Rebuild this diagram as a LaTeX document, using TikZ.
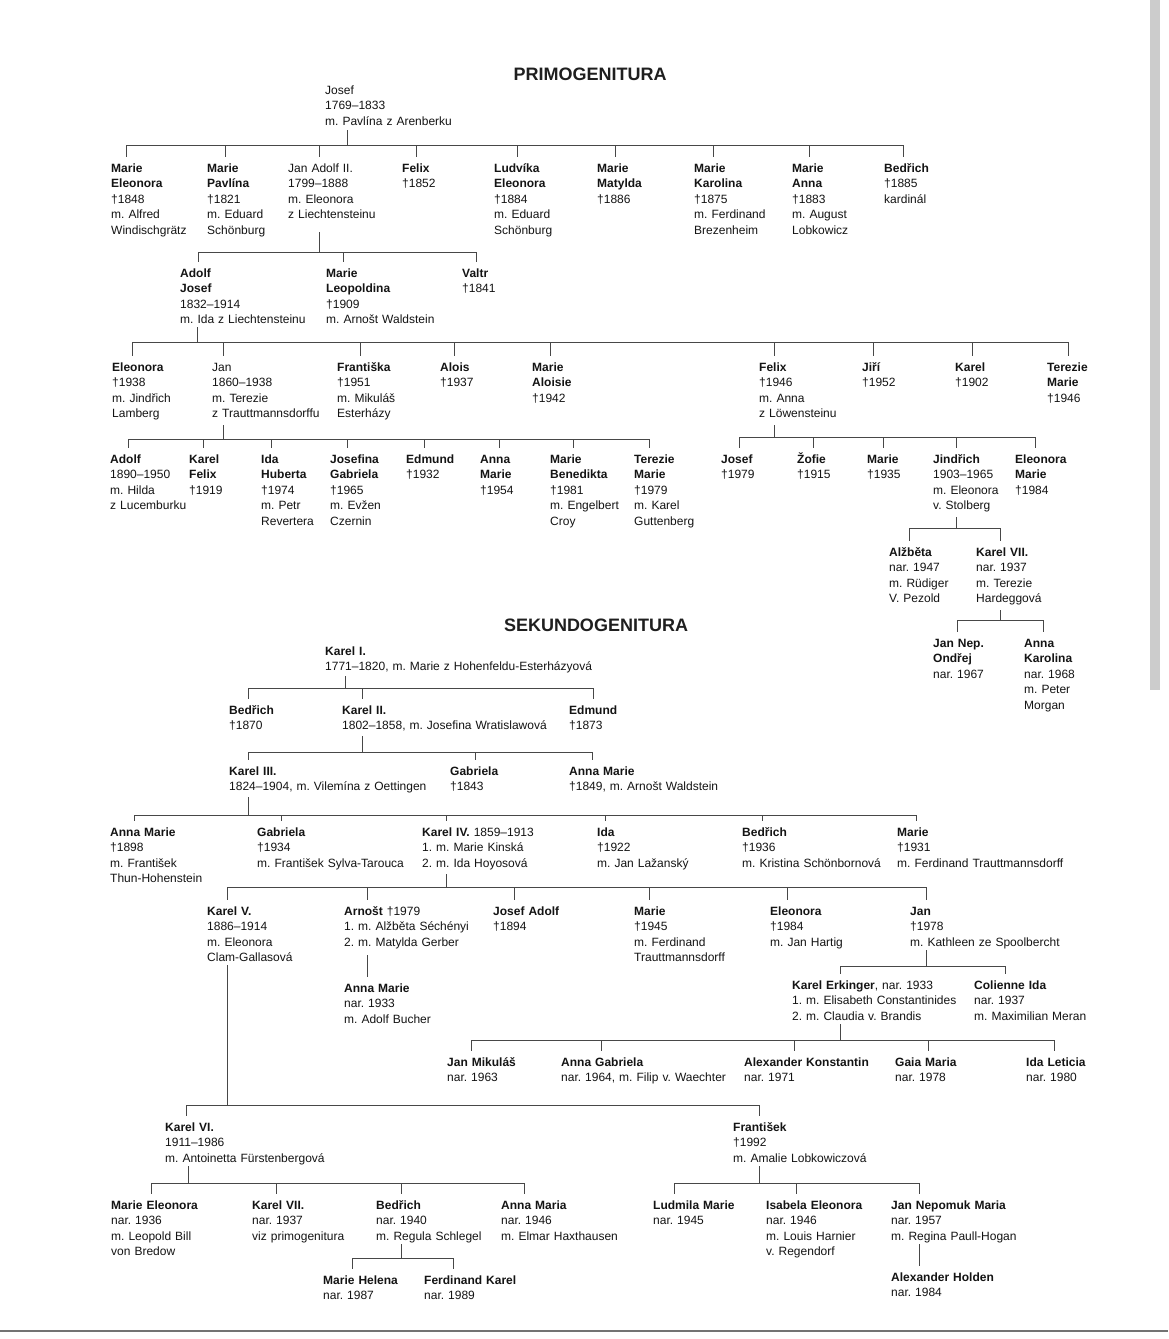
\documentclass[tikz,border=0pt]{standalone}
\usepackage{fontspec}
\setmainfont{Liberation Sans}
\tikzset{
    person/.style={anchor=base west, text width=320pt, align=left, inner sep=0pt,
        font=\fontsize{12}{15.5}\selectfont\frenchspacing, text=black!92},
    genhead/.style={anchor=base, inner sep=0pt,
        font=\fontsize{18}{20}\selectfont\bfseries, text=black!88},
    kinline/.style={draw=black!72, line width=0.9pt}
}

\begin{document}
\begin{tikzpicture}[x=1pt,y=-1pt]
\useasboundingbox (0,0) rectangle (1168,1339);
\fill[white] (0,0) rectangle (1168,1339);
\fill[black!20] (1150,0) rectangle (1160,690);
\draw[black!55, line width=1.5pt] (0,1331) -- (1168,1331);

% primogenitura
\node[genhead] (primo) at (590,80) {PRIMOGENITURA};
\node[person] (josef) at (325,94) {Josef\\1769–1833\\m. Pavlína z Arenberku};

\node[person] (mEleonora) at (111,172) {\textbf{Marie}\\\textbf{Eleonora}\\†1848\\m. Alfred\\Windischgrätz};
\node[person] (mPavlina) at (207,172) {\textbf{Marie}\\\textbf{Pavlína}\\†1821\\m. Eduard\\Schönburg};
\node[person] (janAdolf) at (288,172) {Jan Adolf II.\\1799–1888\\m. Eleonora\\z Liechtensteinu};
\node[person] (felixA) at (402,172) {\textbf{Felix}\\†1852};
\node[person] (ludvika) at (494,172) {\textbf{Ludvíka}\\\textbf{Eleonora}\\†1884\\m. Eduard\\Schönburg};
\node[person] (matylda) at (597,172) {\textbf{Marie}\\\textbf{Matylda}\\†1886};
\node[person] (karolina) at (694,172) {\textbf{Marie}\\\textbf{Karolina}\\†1875\\m. Ferdinand\\Brezenheim};
\node[person] (mAnna) at (792,172) {\textbf{Marie}\\\textbf{Anna}\\†1883\\m. August\\Lobkowicz};
\node[person] (bedrichA) at (884,172) {\textbf{Bedřich}\\†1885\\kardinál};

\node[person] (adolfJ) at (180,277) {\textbf{Adolf}\\\textbf{Josef}\\1832–1914\\m. Ida z Liechtensteinu};
\node[person] (leopoldina) at (326,277) {\textbf{Marie}\\\textbf{Leopoldina}\\†1909\\m. Arnošt Waldstein};
\node[person] (valtr) at (462,277) {\textbf{Valtr}\\†1841};

\node[person] (eleonoraB) at (112,371) {\textbf{Eleonora}\\†1938\\m. Jindřich\\Lamberg};
\node[person] (janB) at (212,371) {Jan\\1860–1938\\m. Terezie\\z Trauttmannsdorffu};
\node[person] (frantiska) at (337,371) {\textbf{Františka}\\†1951\\m. Mikuláš\\Esterházy};
\node[person] (alois) at (440,371) {\textbf{Alois}\\†1937};
\node[person] (aloisie) at (532,371) {\textbf{Marie}\\\textbf{Aloisie}\\†1942};
\node[person] (felixB) at (759,371) {\textbf{Felix}\\†1946\\m. Anna\\z Löwensteinu};
\node[person] (jiri) at (862,371) {\textbf{Jiří}\\†1952};
\node[person] (karelB) at (955,371) {\textbf{Karel}\\†1902};
\node[person] (terezieB) at (1047,371) {\textbf{Terezie}\\\textbf{Marie}\\†1946};

\node[person] (adolfC) at (110,463) {\textbf{Adolf}\\1890–1950\\m. Hilda\\z Lucemburku};
\node[person] (karelFelix) at (189,463) {\textbf{Karel}\\\textbf{Felix}\\†1919};
\node[person] (idaH) at (261,463) {\textbf{Ida}\\\textbf{Huberta}\\†1974\\m. Petr\\Revertera};
\node[person] (josefina) at (330,463) {\textbf{Josefina}\\\textbf{Gabriela}\\†1965\\m. Evžen\\Czernin};
\node[person] (edmund) at (406,463) {\textbf{Edmund}\\†1932};
\node[person] (annaMarieC) at (480,463) {\textbf{Anna}\\\textbf{Marie}\\†1954};
\node[person] (benedikta) at (550,463) {\textbf{Marie}\\\textbf{Benedikta}\\†1981\\m. Engelbert\\Croy};
\node[person] (terezieC) at (634,463) {\textbf{Terezie}\\\textbf{Marie}\\†1979\\m. Karel\\Guttenberg};
\node[person] (josefC) at (721,463) {\textbf{Josef}\\†1979};
\node[person] (zofie) at (797,463) {\textbf{Žofie}\\†1915};
\node[person] (marieC) at (867,463) {\textbf{Marie}\\†1935};
\node[person] (jindrich) at (933,463) {\textbf{Jindřich}\\1903–1965\\m. Eleonora\\v. Stolberg};
\node[person] (eleonoraC) at (1015,463) {\textbf{Eleonora}\\\textbf{Marie}\\†1984};

\node[person] (alzbeta) at (889,556) {\textbf{Alžběta}\\nar. 1947\\m. Rüdiger\\V. Pezold};
\node[person] (karelVII) at (976,556) {\textbf{Karel VII.}\\nar. 1937\\m. Terezie\\Hardeggová};
\node[person] (janNep) at (933,647) {\textbf{Jan Nep.}\\\textbf{Ondřej}\\nar. 1967};
\node[person] (annaKar) at (1024,647) {\textbf{Anna}\\\textbf{Karolina}\\nar. 1968\\m. Peter\\Morgan};

% sekundogenitura
\node[genhead] (sekundo) at (596,631) {SEKUNDOGENITURA};
\node[person] (karelI) at (325,655) {\textbf{Karel I.}\\1771–1820, m. Marie z Hohenfeldu-Esterházyová};

\node[person] (bedrichS) at (229,714) {\textbf{Bedřich}\\†1870};
\node[person] (karelII) at (342,714) {\textbf{Karel II.}\\1802–1858, m. Josefina Wratislawová};
\node[person] (edmundS) at (569,714) {\textbf{Edmund}\\†1873};

\node[person] (karelIII) at (229,775) {\textbf{Karel III.}\\1824–1904, m. Vilemína z Oettingen};
\node[person] (gabrielaS) at (450,775) {\textbf{Gabriela}\\†1843};
\node[person] (annaMarieS) at (569,775) {\textbf{Anna Marie}\\†1849, m. Arnošt Waldstein};

\node[person] (annaMarieT) at (110,836) {\textbf{Anna Marie}\\†1898\\m. František\\Thun-Hohenstein};
\node[person] (gabrielaT) at (257,836) {\textbf{Gabriela}\\†1934\\m. František Sylva-Tarouca};
\node[person] (karelIV) at (422,836) {\textbf{Karel IV.} 1859–1913\\1. m. Marie Kinská\\2. m. Ida Hoyosová};
\node[person] (idaT) at (597,836) {\textbf{Ida}\\†1922\\m. Jan Lažanský};
\node[person] (bedrichT) at (742,836) {\textbf{Bedřich}\\†1936\\m. Kristina Schönbornová};
\node[person] (marieT) at (897,836) {\textbf{Marie}\\†1931\\m. Ferdinand Trauttmannsdorff};

\node[person] (karelV) at (207,915) {\textbf{Karel V.}\\1886–1914\\m. Eleonora\\Clam-Gallasová};
\node[person] (arnost) at (344,915) {\textbf{Arnošt} †1979\\1. m. Alžběta Séchényi\\2. m. Matylda Gerber};
\node[person] (josefAdolf) at (493,915) {\textbf{Josef Adolf}\\†1894};
\node[person] (marieU) at (634,915) {\textbf{Marie}\\†1945\\m. Ferdinand\\Trauttmannsdorff};
\node[person] (eleonoraU) at (770,915) {\textbf{Eleonora}\\†1984\\m. Jan Hartig};
\node[person] (janU) at (910,915) {\textbf{Jan}\\†1978\\m. Kathleen ze Spoolbercht};

\node[person] (annaMarieU) at (344,992) {\textbf{Anna Marie}\\nar. 1933\\m. Adolf Bucher};
\node[person] (erkinger) at (792,989) {\textbf{Karel Erkinger}, nar. 1933\\1. m. Elisabeth Constantinides\\2. m. Claudia v. Brandis};
\node[person] (colienne) at (974,989) {\textbf{Colienne Ida}\\nar. 1937\\m. Maximilian Meran};

\node[person] (janMik) at (447,1066) {\textbf{Jan Mikuláš}\\nar. 1963};
\node[person] (annaGab) at (561,1066) {\textbf{Anna Gabriela}\\nar. 1964, m. Filip v. Waechter};
\node[person] (alexK) at (744,1066) {\textbf{Alexander Konstantin}\\nar. 1971};
\node[person] (gaia) at (895,1066) {\textbf{Gaia Maria}\\nar. 1978};
\node[person] (idaLet) at (1026,1066) {\textbf{Ida Leticia}\\nar. 1980};

\node[person] (karelVI) at (165,1131) {\textbf{Karel VI.}\\1911–1986\\m. Antoinetta Fürstenbergová};
\node[person] (frantisek) at (733,1131) {\textbf{František}\\†1992\\m. Amalie Lobkowiczová};

\node[person] (marieEl) at (111,1209) {\textbf{Marie Eleonora}\\nar. 1936\\m. Leopold Bill\\von Bredow};
\node[person] (karelVIIs) at (252,1209) {\textbf{Karel VII.}\\nar. 1937\\viz primogenitura};
\node[person] (bedrichV) at (376,1209) {\textbf{Bedřich}\\nar. 1940\\m. Regula Schlegel};
\node[person] (annaMaria) at (501,1209) {\textbf{Anna Maria}\\nar. 1946\\m. Elmar Haxthausen};
\node[person] (ludmila) at (653,1209) {\textbf{Ludmila Marie}\\nar. 1945};
\node[person] (isabela) at (766,1209) {\textbf{Isabela Eleonora}\\nar. 1946\\m. Louis Harnier\\v. Regendorf};
\node[person] (janNepM) at (891,1209) {\textbf{Jan Nepomuk Maria}\\nar. 1957\\m. Regina Paull-Hogan};

\node[person] (marieHel) at (323,1284) {\textbf{Marie Helena}\\nar. 1987};
\node[person] (ferdKarel) at (424,1284) {\textbf{Ferdinand Karel}\\nar. 1989};
\node[person] (alexH) at (891,1281) {\textbf{Alexander Holden}\\nar. 1984};

% lines: parent drop, bar, ticks
\coordinate (barJosef) at (0,145);
\draw[kinline] ([shift={(22,36)}]josef.base west) -- ([xshift=22]josef.base west |- barJosef);
\draw[kinline] ([xshift=15]mEleonora.base west |- barJosef) -- ([xshift=19]bedrichA.base west |- barJosef);
\foreach \n/\d in {mEleonora/15,mPavlina/18,janAdolf/31,felixA/14,ludvika/23,matylda/18,karolina/19,mAnna/17,bedrichA/19}
    \draw[kinline] ([xshift=\d]\n.base west |- barJosef) -- ([shift={(\d,-15)}]\n.base west);

\coordinate (barJanAdolf) at (0,252);
\draw[kinline] ([shift={(31,60)}]janAdolf.base west) -- ([xshift=31]janAdolf.base west |- barJanAdolf);
\draw[kinline] ([xshift=18]adolfJ.base west |- barJanAdolf) -- ([xshift=14]valtr.base west |- barJanAdolf);
\foreach \n/\d in {adolfJ/18,leopoldina/17,valtr/14}
    \draw[kinline] ([xshift=\d]\n.base west |- barJanAdolf) -- ([shift={(\d,-15)}]\n.base west);

\coordinate (barAdolfJ) at (0,342);
\draw[kinline] ([shift={(17,50)}]adolfJ.base west) -- ([xshift=17]adolfJ.base west |- barAdolfJ);
\draw[kinline] ([xshift=20]eleonoraB.base west |- barAdolfJ) -- ([xshift=21]terezieB.base west |- barAdolfJ);
\foreach \n/\d in {eleonoraB/20,janB/11,frantiska/23,alois/14,aloisie/18,felixB/15,jiri/11,karelB/17,terezieB/21}
    \draw[kinline] ([xshift=\d]\n.base west |- barAdolfJ) -- ([shift={(\d,-15)}]\n.base west);

\coordinate (barJanB) at (0,439);
\draw[kinline] ([shift={(11,54)}]janB.base west) -- ([xshift=11]janB.base west |- barJanB);
\draw[kinline] ([xshift=18]adolfC.base west |- barJanB) -- ([xshift=15]terezieC.base west |- barJanB);
\foreach \n/\d in {adolfC/18,karelFelix/14,idaH/10,josefina/17,edmund/18,annaMarieC/19,benedikta/23,terezieC/15}
    \draw[kinline] ([xshift=\d]\n.base west |- barJanB) -- ([shift={(\d,-15)}]\n.base west);

\coordinate (barFelixB) at (0,437);
\draw[kinline] ([shift={(15,54)}]felixB.base west) -- ([xshift=15]felixB.base west |- barFelixB);
\draw[kinline] ([xshift=18]josefC.base west |- barFelixB) -- ([xshift=20]eleonoraC.base west |- barFelixB);
\foreach \n/\d in {josefC/18,zofie/16,marieC/16,jindrich/23,eleonoraC/20}
    \draw[kinline] ([xshift=\d]\n.base west |- barFelixB) -- ([shift={(\d,-15)}]\n.base west);

\coordinate (barJindrich) at (0,528);
\draw[kinline] ([shift={(23,54)}]jindrich.base west) -- ([xshift=23]jindrich.base west |- barJindrich);
\draw[kinline] ([xshift=20]alzbeta.base west |- barJindrich) -- ([xshift=24]karelVII.base west |- barJindrich);
\foreach \n/\d in {alzbeta/20,karelVII/24}
    \draw[kinline] ([xshift=\d]\n.base west |- barJindrich) -- ([shift={(\d,-15)}]\n.base west);

\coordinate (barKarelVII) at (0,620);
\draw[kinline] ([shift={(24,54)}]karelVII.base west) -- ([xshift=24]karelVII.base west |- barKarelVII);
\draw[kinline] ([xshift=24]janNep.base west |- barKarelVII) -- ([xshift=19]annaKar.base west |- barKarelVII);
\foreach \n/\d in {janNep/24,annaKar/19}
    \draw[kinline] ([xshift=\d]\n.base west |- barKarelVII) -- ([shift={(\d,-15)}]\n.base west);

\coordinate (barKarelI) at (0,688);
\draw[kinline] ([shift={(20,21)}]karelI.base west) -- ([xshift=20]karelI.base west |- barKarelI);
\draw[kinline] ([xshift=19]bedrichS.base west |- barKarelI) -- ([xshift=24]edmundS.base west |- barKarelI);
\foreach \n/\d in {bedrichS/19,karelII/20,edmundS/24}
    \draw[kinline] ([xshift=\d]\n.base west |- barKarelI) -- ([shift={(\d,-15)}]\n.base west);

\coordinate (barKarelII) at (0,752);
\draw[kinline] ([shift={(20,22)}]karelII.base west) -- ([xshift=20]karelII.base west |- barKarelII);
\draw[kinline] ([xshift=19]karelIII.base west |- barKarelII) -- ([xshift=23]annaMarieS.base west |- barKarelII);
\foreach \n/\d in {karelIII/19,gabrielaS/25,annaMarieS/23}
    \draw[kinline] ([xshift=\d]\n.base west |- barKarelII) -- ([shift={(\d,-15)}]\n.base west);

\coordinate (barKarelIII) at (0,815);
\draw[kinline] ([shift={(19,22)}]karelIII.base west) -- ([xshift=19]karelIII.base west |- barKarelIII);
\draw[kinline] ([xshift=24]annaMarieT.base west |- barKarelIII) -- ([xshift=19]marieT.base west |- barKarelIII);
\foreach \n/\d in {annaMarieT/24,gabrielaT/24,karelIV/24,idaT/8,bedrichT/20,marieT/19}
    \draw[kinline] ([xshift=\d]\n.base west |- barKarelIII) -- ([shift={(\d,-15)}]\n.base west);

\coordinate (barKarelIV) at (0,887);
\draw[kinline] ([shift={(24,38)}]karelIV.base west) -- ([xshift=24]karelIV.base west |- barKarelIV);
\draw[kinline] ([xshift=20]karelV.base west |- barKarelIV) -- ([xshift=16]janU.base west |- barKarelIV);
\foreach \n/\d in {karelV/20,arnost/23,josefAdolf/21,marieU/15,eleonoraU/17,janU/16}
    \draw[kinline] ([xshift=\d]\n.base west |- barKarelIV) -- ([shift={(\d,-15)}]\n.base west);

\draw[kinline] ([shift={(23,40)}]arnost.base west) -- ([shift={(23,-15)}]annaMarieU.base west);

\coordinate (barJanU) at (0,966);
\draw[kinline] ([shift={(16,35)}]janU.base west) -- ([xshift=16]janU.base west |- barJanU);
\draw[kinline] ([xshift=48]erkinger.base west |- barJanU) -- ([xshift=31]colienne.base west |- barJanU);
\foreach \n/\d in {erkinger/48,colienne/31}
    \draw[kinline] ([xshift=\d]\n.base west |- barJanU) -- ([shift={(\d,-15)}]\n.base west);

\coordinate (barErkinger) at (0,1040);
\draw[kinline] ([shift={(48,35)}]erkinger.base west) -- ([xshift=48]erkinger.base west |- barErkinger);
\draw[kinline] ([xshift=24]janMik.base west |- barErkinger) -- ([xshift=28]idaLet.base west |- barErkinger);
\foreach \n/\d in {janMik/24,annaGab/40,alexK/50,gaia/33,idaLet/28}
    \draw[kinline] ([xshift=\d]\n.base west |- barErkinger) -- ([shift={(\d,-15)}]\n.base west);

\coordinate (barKarelV) at (0,1105);
\draw[kinline] ([shift={(20,50)}]karelV.base west) -- ([xshift=20]karelV.base west |- barKarelV);
\draw[kinline] ([xshift=21]karelVI.base west |- barKarelV) -- ([xshift=26]frantisek.base west |- barKarelV);
\foreach \n/\d in {karelVI/21,frantisek/26}
    \draw[kinline] ([xshift=\d]\n.base west |- barKarelV) -- ([shift={(\d,-15)}]\n.base west);

\coordinate (barKarelVI) at (0,1183);
\draw[kinline] ([shift={(23,35)}]karelVI.base west) -- ([xshift=23]karelVI.base west |- barKarelVI);
\draw[kinline] ([xshift=40]marieEl.base west |- barKarelVI) -- ([xshift=23]annaMaria.base west |- barKarelVI);
\foreach \n/\d in {marieEl/40,karelVIIs/24,bedrichV/25,annaMaria/23}
    \draw[kinline] ([xshift=\d]\n.base west |- barKarelVI) -- ([shift={(\d,-15)}]\n.base west);

\coordinate (barFrantisek) at (0,1183);
\draw[kinline] ([shift={(26,35)}]frantisek.base west) -- ([xshift=26]frantisek.base west |- barFrantisek);
\draw[kinline] ([xshift=21]ludmila.base west |- barFrantisek) -- ([xshift=28]janNepM.base west |- barFrantisek);
\foreach \n/\d in {ludmila/21,isabela/30,janNepM/28}
    \draw[kinline] ([xshift=\d]\n.base west |- barFrantisek) -- ([shift={(\d,-15)}]\n.base west);

\coordinate (barBedrichV) at (0,1258);
\draw[kinline] ([shift={(25,35)}]bedrichV.base west) -- ([xshift=25]bedrichV.base west |- barBedrichV);
\draw[kinline] ([xshift=29]marieHel.base west |- barBedrichV) -- ([xshift=29]ferdKarel.base west |- barBedrichV);
\foreach \n/\d in {marieHel/29,ferdKarel/29}
    \draw[kinline] ([xshift=\d]\n.base west |- barBedrichV) -- ([shift={(\d,-15)}]\n.base west);

\draw[kinline] ([shift={(28,35)}]janNepM.base west) -- ([shift={(28,-15)}]alexH.base west);
\end{tikzpicture}
\end{document}
